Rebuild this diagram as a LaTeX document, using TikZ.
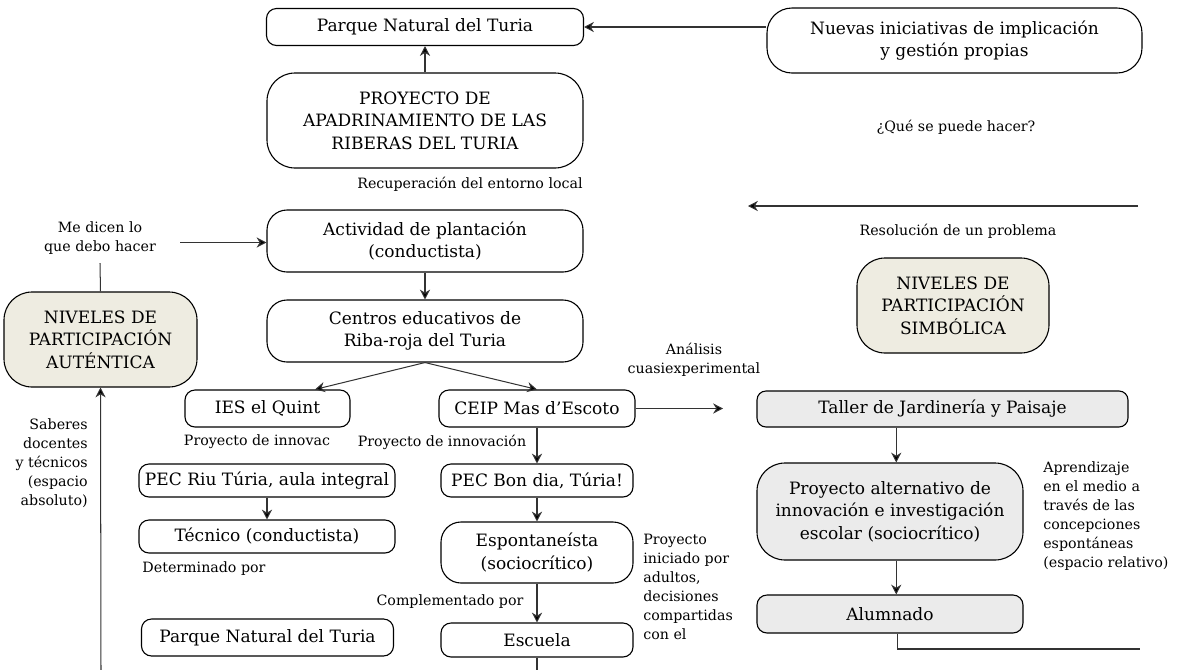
\documentclass[tikz,border=0pt]{standalone}
\usepackage{fontspec}
\setmainfont{DejaVu Serif}
\usetikzlibrary{arrows.meta}
\definecolor{beigec}{HTML}{EEECE1}
\definecolor{greyc}{HTML}{EBEBEB}
\begin{document}
\begin{tikzpicture}[x=0.64pt,y=-0.64pt,
 box/.style={draw=black, line width=0.7pt, align=center, inner sep=0pt, font=\fontsize{10.9}{14.4}\selectfont},
 sz/.style 2 args={minimum width=#1*0.64pt, minimum height=#2*0.64pt},
 rc/.style={rounded corners=#1*0.64pt},
 lbl/.style={font=\fontsize{9.1}{12.2}\selectfont, inner sep=0pt},
 beige/.style={fill=beigec}, grey/.style={fill=greyc},
 arr/.style={draw=black!80, line width=0.65pt, -{Stealth[length=6.3pt,width=6.5pt,inset=2pt,fill=black]}},
 ln/.style={draw=black!80, line width=0.65pt}]
\useasboundingbox (0,0) rectangle (1181,670);
% nodes
\node[box,sz={317}{37},rc=10] (parque1) at (425,27) {Parque Natural del Turia};
\node[box,sz={316}{95},rc=28] (proy) at (425,120.5) {PROYECTO DE\\APADRINAMIENTO DE LAS\\RIBERAS DEL TURIA};
\node[box,sz={375}{65},rc=25] (nuevas) at (954.5,40.5) {Nuevas iniciativas de implicación\\y gestión propias};
\node[lbl] (que) at (956,127) {¿Qué se puede hacer?};
\coordinate (r1) at (1138,206);
\coordinate (r2) at (748,206);
\node[lbl] (resol) at (958,231) {Resolución de un problema};
\node[lbl] (recup) at (470,184) {Recuperación del entorno local};
\node[box,sz={316}{62},rc=20] (activ) at (425,241) {Actividad de plantación\\(conductista)};
\node[lbl,align=center] (medicen) at (100,238.5) {Me dicen lo\\que debo hacer};
\node[box,beige,sz={193}{95},rc=28] (autentica) at (100.5,339.5) {NIVELES DE\\PARTICIPACIÓN\\AUTÉNTICA};
\node[lbl,align=right,anchor=east] (saberes) at (88,463) {Saberes\\docentes\\y técnicos\\(espacio\\absoluto)};
\node[box,sz={316}{62},rc=20] (centros) at (425,331) {Centros educativos de\\Riba-roja del Turia};
\node[box,sz={165}{37},rc=10] (ies) at (267.5,408.5) {IES el Quint};
\node[box,sz={196}{37},rc=10] (ceip) at (537,408.5) {CEIP Mas d’Escoto};
\node[lbl,align=center] (analisis) at (694,360) {Análisis\\cuasiexperimental};
\coordinate (a1) at (723,408.5);
\node[box,grey,sz={371}{36},rc=9] (taller) at (942.5,409) {Taller de Jardinería y Paisaje};
\node[box,beige,sz={192}{95},rc=28] (simbolica) at (953,305.5) {NIVELES DE\\PARTICIPACIÓN\\SIMBÓLICA};
\node[box,grey,sz={266}{97},rc=28] (altern) at (890,511.5) {Proyecto alternativo de\\innovación e investigación\\escolar (sociocrítico)};
\node[box,grey,sz={266}{38},rc=10] (alumnado) at (890,614) {Alumnado};
\coordinate (al2) at (1140,649);
\node[lbl,align=left,anchor=west] (aprend) at (1043,516) {Aprendizaje\\en el medio a\\través de las\\concepciones\\espontáneas\\(espacio relativo)};
\node[lbl] (innovac) at (257,442) {Proyecto de innovac};
\node[lbl] (innovacion) at (442,442) {Proyecto de innovación};
\node[box,sz={256}{33},rc=10] (riu) at (267,480.5) {PEC Riu Túria, aula integral};
\node[box,sz={256}{33},rc=10] (tecnico) at (267,536.5) {Técnico (conductista)};
\node[lbl] (determ) at (204,569) {Determinado por};
\node[box,sz={252}{37},rc=10] (parque2) at (267.5,637.5) {Parque Natural del Turia};
\node[box,sz={192}{33},rc=10] (bondia) at (537,480.5) {PEC Bon dia, Túria!};
\node[box,sz={192}{61},rc=20] (espont) at (537,552.5) {Espontaneísta\\(sociocrítico)};
\node[lbl] (complem) at (450,602) {Complementado por};
\node[box,sz={192}{34},rc=10] (escuela) at (537,640) {Escuela};
\node[lbl,align=left,anchor=west] (iniciado) at (643,587) {Proyecto\\iniciado por\\adultos,\\decisiones\\compartidas\\con el};
\coordinate (m1) at (180,242.5);
\coordinate (b1) at (101,670);
\coordinate (e1) at (537,670);
% connectors
\draw[arr] (proy) -- (parque1);
\draw[arr] (nuevas.west |- parque1.east) -- (parque1.east);
\draw[arr] (r1) -- (r2);
\draw[arr] (m1) -- (m1 -| activ.west);
\draw[ln] ([yshift=-5pt]medicen.south) -- (autentica.north);
\draw[arr] (b1) -- (autentica.south);
\draw[arr] (activ) -- (centros);
\draw[arr] (centros.south) -- ([xshift=30.4pt]ies.north);
\draw[arr] (centros.south) -- (ceip.north);
\draw[arr] (ceip.east) -- (a1);
\draw[arr] ([xshift=4pt]altern.north |- taller.south) -- ([xshift=4pt]altern.north);
\draw[arr] ([xshift=4pt]altern.south) -- ([xshift=4pt]alumnado.north);
\draw[ln] ([xshift=4.5pt]alumnado.south) |- (al2);
\draw[arr] (ceip) -- (bondia);
\draw[arr] (riu) -- (tecnico);
\draw[arr] (bondia) -- (espont);
\draw[arr] (espont) -- (escuela);
\draw[ln] (escuela.south) -- (e1);
\end{tikzpicture}
\end{document}
